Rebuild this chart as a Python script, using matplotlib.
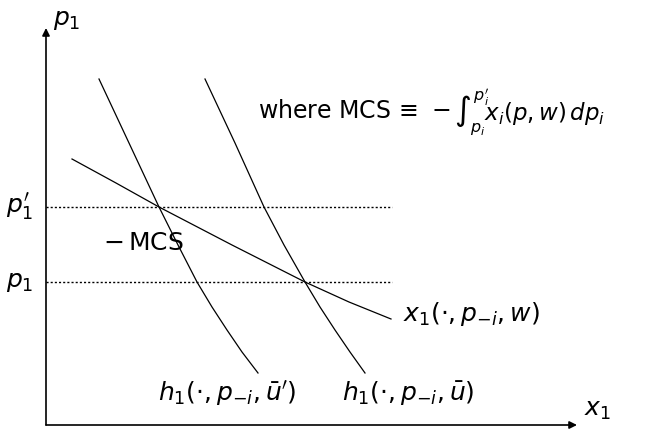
import matplotlib
matplotlib.use("Agg")
import matplotlib.pyplot as plt

plt.rcParams['font.family'] = ['DejaVu Sans']
plt.rcParams['mathtext.fontset'] = 'dejavusans'

# points (origin at the axes corner)
h_low_x = [53, 83, 113, 132, 151, 166, 181, 196, 212]       # h1(., p-i, u')
h_low_y = [346, 282, 218, 180, 143, 118, 95, 73, 52]
h_high_x = [159, 189, 218, 238, 259, 274, 289, 304, 319]    # h1(., p-i, u)
h_high_y = [346, 282, 218, 180, 143, 118, 95, 73, 52]
walras_x = [26, 70, 113, 186, 259, 303, 345]  # x1(., p-i, w)
walras_y = [266, 242, 218, 180, 143, 123, 106]

p_new = 218   # p1'
p_old = 143   # p1
dot_end = 346
x_axis_end = 531
y_axis_end = 397

fig = plt.figure(figsize=(6.53, 4.29), dpi=100)
ax = fig.add_axes([0, 0, 1, 1])
ax.set_xlim(-46, 607)
ax.set_ylim(-4, 425)
ax.axis('off')

# axes with arrows
arrow = dict(arrowstyle='-|>', lw=1.2, color='black', mutation_scale=11,
             shrinkA=0, shrinkB=0)
ax.annotate('', xy=(0, y_axis_end), xytext=(0, 0), arrowprops=arrow)
ax.annotate('', xy=(x_axis_end, 0), xytext=(0, 0), arrowprops=arrow)

# price levels
ax.plot([0, dot_end], [p_new, p_new], color='black', lw=1.0, linestyle=(0, (1.5, 1.5)))
ax.plot([0, dot_end], [p_old, p_old], color='black', lw=1.0, linestyle=(0, (1.5, 1.5)))

# demand curves
ax.plot(h_low_x, h_low_y, color='black', lw=0.9)
ax.plot(h_high_x, h_high_y, color='black', lw=0.9)
ax.plot(walras_x, walras_y, color='black', lw=0.9)

fs = 18
ax.text(21, 405, r'$p_1$', fontsize=fs, ha='center', va='center')
ax.text(551, 15, r'$x_1$', fontsize=fs, ha='center', va='center')
ax.text(-26, p_new, r"$p_1'$", fontsize=fs, ha='center', va='center')
ax.text(-26, p_old, r'$p_1$', fontsize=fs, ha='center', va='center')
ax.text(97, 182, r'$-\,$MCS', fontsize=fs, ha='center', va='center')

# definition of MCS, integral placed right after the first part
t1 = ax.text(212, 314, r"where MCS$\,\equiv\,-$", fontsize=17, ha='left', va='center')
ax.annotate(r"$\int_{p_i}^{p_i'}\!x_i(p, w)\,dp_i$", xy=(1, 0.5), xycoords=t1,
            xytext=(2, -1), textcoords='offset points',
            fontsize=16.5, ha='left', va='center')

ax.text(357, 111, r'$x_1(\cdot, p_{-i}, w)$', fontsize=fs, ha='left', va='center')
ax.text(181, 31, r"$h_1(\cdot, p_{-i}, \bar{u}')$", fontsize=fs, ha='center', va='center')
ax.text(362, 31, r'$h_1(\cdot, p_{-i}, \bar{u})$', fontsize=fs, ha='center', va='center')

fig.savefig('out.png', dpi=100)
